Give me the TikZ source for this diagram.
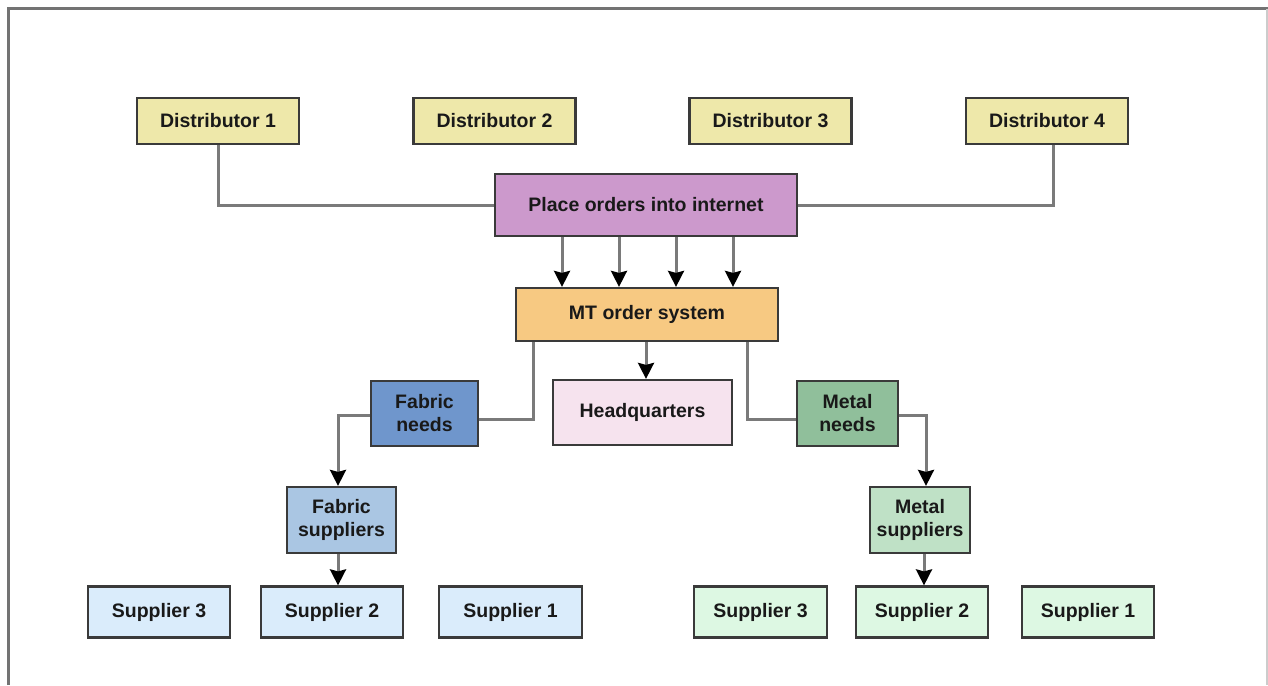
\documentclass[tikz,border=0pt]{standalone}
\usepackage{fontspec}
\setmainfont{Liberation Sans}
\usetikzlibrary{arrows.meta}
\definecolor{distc}{HTML}{EEE8AA}
\definecolor{placec}{HTML}{CC99CC}
\definecolor{mtc}{HTML}{F7C982}
\definecolor{hqc}{HTML}{F6E3EE}
\definecolor{fneedc}{HTML}{6F96CC}
\definecolor{fsupc}{HTML}{AAC6E3}
\definecolor{fsc}{HTML}{DAECFB}
\definecolor{mneedc}{HTML}{90BF9B}
\definecolor{msupc}{HTML}{BFE1C6}
\definecolor{msc}{HTML}{DDF8E3}
\definecolor{edgec}{HTML}{3A3A3A}
\definecolor{linec}{HTML}{7A7A7A}
\tikzset{
  bx/.style={draw=edgec, line width=2.2pt, inner sep=0pt, align=center,
    font=\fontsize{19.5}{23}\selectfont\bfseries, text=black!90},
  conn/.style={draw=linec, line width=3pt},
  arr/.style={conn, -{Stealth[inset=2pt,length=16pt,width=16pt,black]}},
}
\begin{document}
\begin{tikzpicture}[x=1pt,y=-1pt]
\useasboundingbox (0,0) rectangle (1268,685);
\fill[white] (0,0) rectangle (1268,685);
% frame
\draw[line width=3pt, draw=black!55] (8,685) -- (8,9) -- (1268,9);
\draw[line width=1.5pt, draw=black!20] (1267,9) -- (1267,685);
% distributors
\node[bx, fill=distc, minimum width=162pt, minimum height=46pt] (d1) at (218,121) {Distributor 1};
\node[bx, fill=distc, minimum width=162pt, minimum height=46pt] (d2) at (494.5,121) {Distributor 2};
\node[bx, fill=distc, minimum width=162pt, minimum height=46pt] (d3) at (770.5,121) {Distributor 3};
\node[bx, fill=distc, minimum width=162pt, minimum height=46pt] (d4) at (1047,121) {Distributor 4};
% place orders
\node[bx, fill=placec, minimum width=302pt, minimum height=62pt] (po) at (646,205) {Place orders into internet};
% MT
\node[bx, fill=mtc, minimum width=262pt, minimum height=53pt] (mt) at (647,314.5) {MT order system};
% HQ
\node[bx, fill=hqc, minimum width=179pt, minimum height=65pt] (hq) at (642.5,412.5) {Headquarters};
% needs
\node[bx, fill=fneedc, minimum width=107pt, minimum height=65pt] (fn) at (424.5,413.5) {Fabric\\needs};
\node[bx, fill=mneedc, minimum width=101pt, minimum height=65pt] (mn) at (847.5,413.5) {Metal\\needs};
% suppliers groups
\node[bx, fill=fsupc, minimum width=109pt, minimum height=66pt] (fs) at (341.5,520) {Fabric\\suppliers};
\node[bx, fill=msupc, minimum width=100pt, minimum height=66pt] (ms) at (920,520) {Metal\\suppliers};
% fabric suppliers row
\node[bx, fill=fsc, minimum width=142pt, minimum height=51pt] (fs3) at (159,612) {Supplier 3};
\node[bx, fill=fsc, minimum width=142pt, minimum height=51pt] (fs2) at (332,612) {Supplier 2};
\node[bx, fill=fsc, minimum width=143pt, minimum height=51pt] (fs1) at (510.5,612) {Supplier 1};
% metal suppliers row
\node[bx, fill=msc, minimum width=133pt, minimum height=51pt] (ms3) at (760.5,612) {Supplier 3};
\node[bx, fill=msc, minimum width=132pt, minimum height=51pt] (ms2) at (922,612) {Supplier 2};
\node[bx, fill=msc, minimum width=132pt, minimum height=51pt] (ms1) at (1088,612) {Supplier 1};
% connectors
\draw[conn] (d1.south) |- (po.west);
\draw[conn] ([xshift=6pt]d4.south) |- (po.east);
\foreach \xx in {-84,-27,30,87}{
  \draw[arr] ([xshift=\xx pt]po.south) -- ([xshift=\xx pt]po.south |- mt.north);
}
\draw[arr] ([xshift=-1pt]mt.south) -- ([xshift=-1pt]mt.south |- hq.north);
\draw[conn] ([xshift=-114pt]mt.south) |- ([yshift=-5.5pt]fn.east);
\draw[conn] ([xshift=100pt]mt.south) |- ([yshift=-5.5pt]mn.west);
\draw[arr] ([yshift=-1.5pt]fn.west) -| ([xshift=-3.5pt]fs.north);
\draw[arr] ([yshift=-1.5pt]mn.east) -| ([xshift=6pt]ms.north);
\draw[arr] ([xshift=-3.5pt]fs.south) -- ([xshift=-3.5pt]fs.south |- fs2.north);
\draw[arr] ([xshift=4pt]ms.south) -- ([xshift=4pt]ms.south |- ms2.north);
\end{tikzpicture}
\end{document}
